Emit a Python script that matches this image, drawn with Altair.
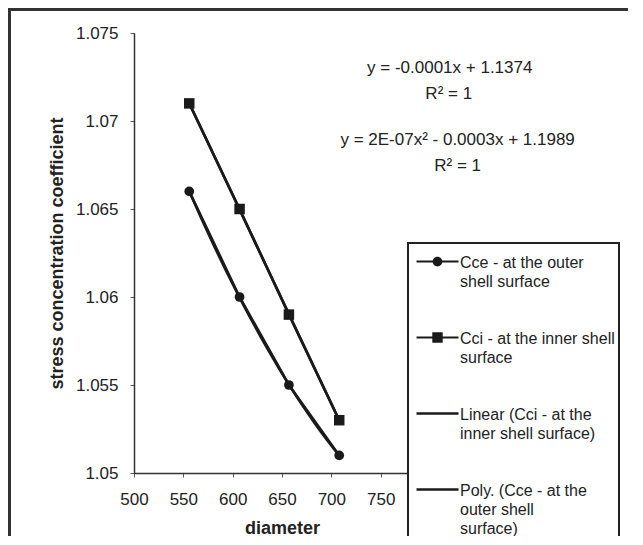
import altair as alt
import pandas as pd

# ---- data ----
diameter = [556, 607, 657, 708]
cce_values = [1.066, 1.060, 1.055, 1.051]   # Cce - at the outer shell surface
cci_values = [1.071, 1.065, 1.059, 1.053]   # Cci - at the inner shell surface

series_names = [
    "Cce - at the outer|shell surface",
    "Cci - at the inner shell|surface",
    "Linear (Cci - at the|inner shell surface)",
    "Poly. (Cce - at the|outer shell|surface)",
]

x_ticks = [500, 550, 600, 650, 700, 750, 800]
y_ticks = [1.05, 1.055, 1.06, 1.065, 1.07, 1.075]

eq_texts = ["y = -0.0001x + 1.1374", "R² = 1", "y = 2E-07x² - 0.0003x + 1.1989", "R² = 1"]
eq_x = [820, 819, 828, 828]
eq_y = [1.0730, 1.07155, 1.0689, 1.06745]

# ---- tables ----
pts = pd.DataFrame({
    "d": diameter + diameter,
    "v": cce_values + cci_values,
    "series": [series_names[0]] * 4 + [series_names[1]] * 4,
})
cce_df = pd.DataFrame({"d": diameter, "v": cce_values})
cci_df = pd.DataFrame({"d": diameter, "v": cci_values})
eq_df = pd.DataFrame({"x": eq_x, "y": eq_y, "t": eq_texts})
one = pd.DataFrame({"k": [0]})

FONT = "Liberation Sans"
INK = "#1a1a1a"

xscale = alt.Scale(domain=[500, 800], nice=False, zero=False)
yscale = alt.Scale(domain=[1.05, 1.075], nice=False, zero=False)

xenc = alt.X("d:Q", scale=xscale, axis=alt.Axis(
    values=x_ticks, title="diameter", format="d", grid=False, labelFlush=False,
    labelPadding=14, titlePadding=12))
yenc = alt.Y("v:Q", scale=yscale, axis=alt.Axis(
    values=y_ticks, title="stress concentration coefficient", format="~g",
    grid=False, labelFlush=False, labelPadding=12, titlePadding=9))

# legend key glyphs (line + marker) as filled shapes, drawn by the legend itself
BAR = "M-3.23,0.84H3.23V1.16H-3.23Z"
P_CIRCLE = BAR + "M0.75,1A0.75,0.75,0,1,1,-0.75,1A0.75,0.75,0,1,1,0.75,1Z"
P_SQUARE = BAR + "M-0.8,0.2H0.8V1.8H-0.8Z"
P_LINE = "M-3.23,0.8H3.23V1.2H-3.23Z"

legend = alt.Legend(
    title=None, orient="none", legendX=274, legendY=210, direction="vertical",
    fillColor="white", strokeColor="#222", padding=4, rowPadding=33,
    symbolSize=169, symbolStrokeWidth=0, symbolFillColor=INK, symbolStrokeColor=INK,
    symbolOffset=17.5, symbolOpacity=1,
    labelFont=FONT, labelFontSize=16, labelColor="#222", labelLimit=400,
    labelOffset=14.5, labelBaseline="top",
    labelExpr="split(datum.label, '|')",
)

key_layer = alt.Chart(pts).transform_filter("false").mark_point(
    filled=True, fill=INK, opacity=1
).encode(
    x=xenc, y=yenc,
    shape=alt.Shape("series:N", scale=alt.Scale(domain=series_names,
                    range=[P_CIRCLE, P_SQUARE, P_LINE, P_LINE]), legend=legend),
)

series_lines = alt.Chart(pts).mark_line(strokeWidth=2.6, color=INK).encode(
    x=xenc, y=yenc, detail="series:N")

linear_fit = (
    alt.Chart(cci_df)
    .transform_regression("d", "v", method="linear")
    .mark_line(strokeWidth=2.6, color=INK)
    .encode(x=xenc, y=yenc)
)

poly_fit = (
    alt.Chart(cce_df)
    .transform_regression("d", "v", method="poly", order=2)
    .mark_line(strokeWidth=2.6, color=INK)
    .encode(x=xenc, y=yenc)
)

cce_markers = alt.Chart(cce_df).mark_point(
    shape="circle", filled=True, opacity=1, size=95, color=INK).encode(x=xenc, y=yenc)
cci_markers = alt.Chart(cci_df).mark_point(
    shape="square", filled=True, opacity=1, size=110, color=INK).encode(x=xenc, y=yenc)

equations = alt.Chart(eq_df).mark_text(
    font=FONT, fontSize=17, color="#222", align="center", baseline="middle"
).encode(x=alt.X("x:Q", scale=xscale), y=alt.Y("y:Q", scale=yscale), text="t:N")

frame_top = alt.Chart(one).mark_rule(color="#333", strokeWidth=3).encode(
    x=alt.value(-126), x2=alt.value(494), y=alt.value(-23.5))
frame_left = alt.Chart(one).mark_rule(color="#333", strokeWidth=3).encode(
    x=alt.value(-124.5), y=alt.value(-25), y2=alt.value(503))

chart = alt.layer(
    frame_top, frame_left, series_lines, linear_fit, poly_fit,
    cce_markers, cci_markers, equations, key_layer
).properties(
    width=296, height=440,
    autosize=alt.AutoSizeParams(type="none"),
    padding={"left": 126, "top": 25, "right": 198, "bottom": 63},
    background="white",
).configure(
    style={"guide-label": {"lineHeight": 19}}
).configure_view(strokeWidth=0).configure_axis(
    labelFont=FONT, labelFontSize=17, labelColor="#222",
    titleFont=FONT, titleFontSize=18, titleFontWeight="bold", titleColor="#222",
    domainColor="#333", domainWidth=1.5, tickColor="#555", tickSize=4, tickWidth=1,
).configure_legend(strokeWidth=2)

chart.save("out.html", embed_options={"renderer": "svg", "actions": False})
